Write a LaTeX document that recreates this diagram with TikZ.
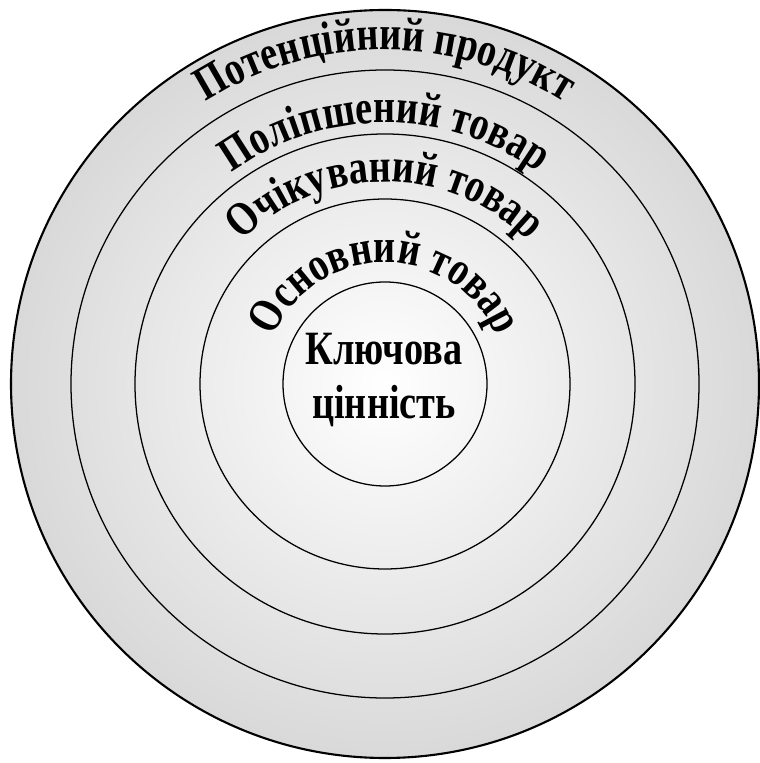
\documentclass[tikz,border=0pt]{standalone}
\usepackage{fontspec}
\setmainfont{Liberation Serif}
\newfontfamily\ringfont[FakeStretch=0.8]{Liberation Serif}
\usetikzlibrary{decorations.text}

\begin{document}
\begin{tikzpicture}[
    x=0.025cm, y=0.025cm,
    ring/.style={draw=black, line width=0.9pt},
    outerring/.style={draw=black, line width=1.5pt},
    ringlabel/.style={decorate, decoration={text along path, text align=center,
        text={|\ringfont\bfseries\fontsize{34}{36}\selectfont|#1}}}
]

% Canvas
\useasboundingbox (0,0) rectangle (759,763);
\coordinate (ctr) at (385,379);

% Shaded disc and outer border
\shade[inner color=white, outer color=gray!30] (ctr) circle (374);
\draw[outerring] (ctr) circle (374);

% Inner rings
\foreach \r in {314,250,185,102} {
    \draw[ring] (ctr) circle (\r);
}

% Labels along the rings
\path[ringlabel={Потенційний продукт}] ([shift={(180:334)}]ctr) arc[start angle=180, end angle=0, radius=334];
\path[ringlabel={Поліпшений товар}] ([shift={(180:261)}]ctr) arc[start angle=180, end angle=0, radius=261];
\path[ringlabel={Очікуваний товар}] ([shift={(180:202)}]ctr) arc[start angle=180, end angle=0, radius=202];
\path[ringlabel={Основний товар}] ([shift={(180:121)}]ctr) arc[start angle=180, end angle=0, radius=121];

% Core
\node[align=center, font=\ringfont\bfseries\fontsize{34}{39}\selectfont] (core) at (384,383) {Ключова\\цінність};

\end{tikzpicture}
\end{document}
